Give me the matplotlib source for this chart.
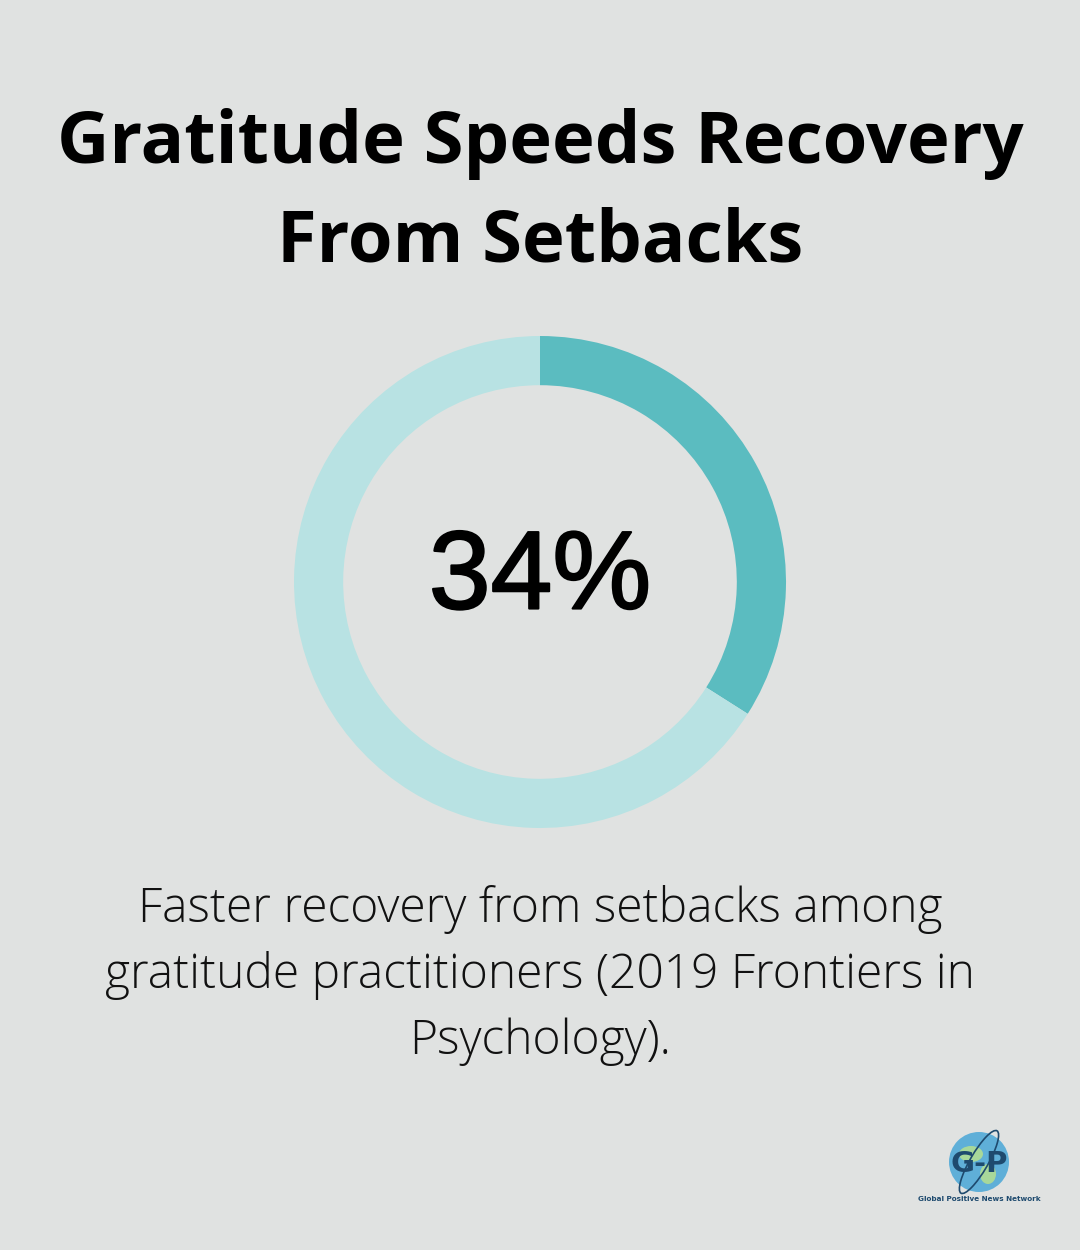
import matplotlib
matplotlib.use("Agg")
import matplotlib.pyplot as plt
from matplotlib.patches import Circle, Ellipse

title_lines = ["Gratitude Speeds Recovery", "From Setbacks"]
value_pct = 34
center_label = "34%"
caption_lines = ["Faster recovery from setbacks among",
                 "gratitude practitioners (2019 Frontiers in",
                 "Psychology)."]
logo_text = "Global Positive News Network"

BG = "#E0E2E1"
DARK = "#5BBCC0"
LIGHT = "#B8E2E3"

W, H = 1080, 1250
fig = plt.figure(figsize=(W / 100, H / 100), dpi=100, facecolor=BG)

# Title
fig.text(0.5, 1 - 144 / H, title_lines[0], ha="center", va="center",
         fontsize=52, fontweight="bold", family="Open Sans", color="#000000")
fig.text(0.5, 1 - 242 / H, title_lines[1], ha="center", va="center",
         fontsize=52, fontweight="bold", family="Open Sans", color="#000000")

# Donut
cx, cy, R = 540, 582, 246
ax = fig.add_axes([(cx - R) / W, 1 - (cy + R) / H, 2 * R / W, 2 * R / H])
ax.set_facecolor(BG)
ax.pie([value_pct, 100 - value_pct], colors=[DARK, LIGHT], startangle=90,
       counterclock=False, radius=1.0,
       wedgeprops=dict(width=0.2, edgecolor="none"))
ax.set_xlim(-1, 1)
ax.set_ylim(-1, 1)
ax.set_aspect("equal")
ax.axis("off")
ax.text(0, 0.01, center_label, ha="center", va="center", fontsize=80,
        family="Liberation Sans", color="#000000",
        path_effects=[__import__("matplotlib.patheffects", fromlist=["withStroke"]).withStroke(linewidth=1.5, foreground="#000000")])

# Caption
for i, line in enumerate(caption_lines):
    fig.text(0.5, 1 - (910 + 66 * i) / H, line, ha="center", va="center",
             fontsize=34.6, fontweight="light", family="Open Sans", color="#111111")

# Logo
lx, ly = 979, 1162
lax = fig.add_axes([(lx - 40) / W, 1 - (ly + 35) / H, 80 / W, 70 / H])
lax.set_xlim(-40, 40)
lax.set_ylim(-35, 35)
lax.set_aspect("equal")
lax.axis("off")
lax.add_patch(Circle((0, 0), 30, facecolor="#5FAFD8", edgecolor="none"))
lax.add_patch(Ellipse((-8, 8), 24, 16, facecolor="#A8D89A", edgecolor="none"))
lax.add_patch(Ellipse((9, -12), 16, 20, facecolor="#A8D89A", edgecolor="none"))
lax.add_patch(Ellipse((0, 0), 18, 72, angle=-30, facecolor="none",
                      edgecolor="#1E4A6E", lw=1.2))
lax.text(0, -2, "G-P", ha="center", va="center", fontsize=21,
         fontweight="bold", family="DejaVu Sans", color="#1E4A6E")
fig.text(lx / W, 1 - 1199 / H, logo_text, ha="center", va="center",
         fontsize=5.2, fontweight="bold", family="DejaVu Sans", color="#1E4A6E")

fig.savefig("out.png", dpi=100, facecolor=BG)
